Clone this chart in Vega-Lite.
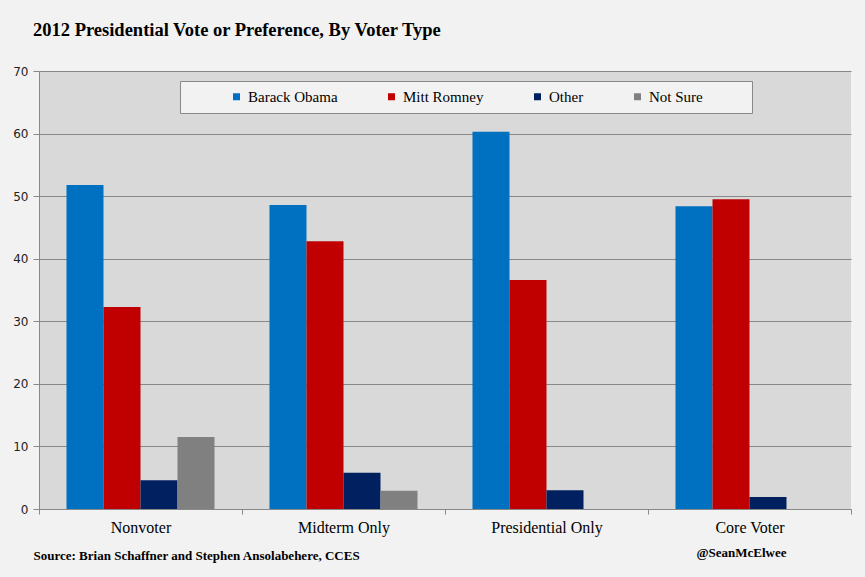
{
  "$schema": "https://vega.github.io/schema/vega-lite/v6.json",
  "autosize": {"type": "none"},
  "width": 812,
  "height": 438,
  "padding": {"left": 39, "top": 71, "right": 14, "bottom": 68},
  "background": "#f2f2f2",
  "title": {
    "text": "2012 Presidential Vote or Preference, By Voter Type",
    "anchor": "start",
    "frame": "group",
    "dx": -6,
    "offset": 26,
    "font": "Liberation Serif",
    "fontSize": 18.5,
    "fontWeight": "bold",
    "color": "#000000"
  },
  "data": {
    "values": [
      {"type": "Nonvoter", "candidate": "Barack Obama", "pct": 51.8},
      {"type": "Nonvoter", "candidate": "Mitt Romney", "pct": 32.3},
      {"type": "Nonvoter", "candidate": "Other", "pct": 4.6},
      {"type": "Nonvoter", "candidate": "Not Sure", "pct": 11.5},
      {"type": "Midterm Only", "candidate": "Barack Obama", "pct": 48.6},
      {"type": "Midterm Only", "candidate": "Mitt Romney", "pct": 42.8},
      {"type": "Midterm Only", "candidate": "Other", "pct": 5.8},
      {"type": "Midterm Only", "candidate": "Not Sure", "pct": 2.9},
      {"type": "Presidential Only", "candidate": "Barack Obama", "pct": 60.3},
      {"type": "Presidential Only", "candidate": "Mitt Romney", "pct": 36.6},
      {"type": "Presidential Only", "candidate": "Other", "pct": 3.0},
      {"type": "Presidential Only", "candidate": "Not Sure", "pct": 0},
      {"type": "Core Voter", "candidate": "Barack Obama", "pct": 48.4},
      {"type": "Core Voter", "candidate": "Mitt Romney", "pct": 49.5},
      {"type": "Core Voter", "candidate": "Other", "pct": 1.9},
      {"type": "Core Voter", "candidate": "Not Sure", "pct": 0}
    ]
  },
  "mark": {"type": "bar"},
  "encoding": {
    "x": {
      "field": "type",
      "type": "nominal",
      "sort": ["Nonvoter", "Midterm Only", "Presidential Only", "Core Voter"],
      "scale": {"paddingInner": 0, "paddingOuter": 0},
      "axis": {
        "title": "Source: Brian Schaffner and Stephen Ansolabehere,  CCES",
        "titleX": -6,
        "titleY": 46,
        "titleAlign": "left",
        "titleAnchor": "start",
        "titleBaseline": "middle",
        "titleFont": "Liberation Serif",
        "titleFontSize": 13,
        "titleFontWeight": "bold",
        "titleColor": "#000000",
        "labelAngle": 0,
        "labelFont": "Liberation Serif",
        "labelFontSize": 16,
        "labelColor": "#000000",
        "labelPadding": 5,
        "tickBand": "extent",
        "tickSize": 5,
        "tickColor": "#888888",
        "domainColor": "#888888",
        "grid": false
      }
    },
    "xOffset": {
      "field": "candidate",
      "type": "nominal",
      "sort": ["Barack Obama", "Mitt Romney", "Other", "Not Sure"],
      "scale": {"paddingInner": 0, "paddingOuter": 0.743}
    },
    "y": {
      "field": "pct",
      "type": "quantitative",
      "scale": {"domain": [0, 70], "nice": false},
      "axis": {
        "values": [0, 10, 20, 30, 40, 50, 60, 70],
        "title": "@SeanMcElwee",
        "titleAngle": 0,
        "titleX": 702,
        "titleY": 481,
        "titleAlign": "center",
        "titleBaseline": "middle",
        "titleFont": "Liberation Serif",
        "titleFontSize": 13,
        "titleFontWeight": "bold",
        "titleColor": "#000000",
        "labelFont": "DejaVu Sans",
        "labelFontSize": 12,
        "labelColor": "#222222",
        "labelPadding": 5,
        "tickSize": 6,
        "tickColor": "#888888",
        "domainColor": "#888888",
        "gridColor": "#888888",
        "gridWidth": 1
      }
    },
    "color": {
      "field": "candidate",
      "type": "nominal",
      "sort": ["Barack Obama", "Mitt Romney", "Other", "Not Sure"],
      "scale": {
        "domain": ["Barack Obama", "Mitt Romney", "Other", "Not Sure"],
        "range": ["#0070c0", "#c00000", "#002060", "#808080"]
      },
      "legend": {
        "orient": "none",
        "legendX": 141,
        "legendY": 10,
        "direction": "horizontal",
        "columns": 4,
        "title": " ",
        "titleOrient": "left",
        "titlePadding": 41,
        "titleFontSize": 15,
        "titleFont": "Liberation Serif",
        "padding": 8,
        "fillColor": "#f2f2f2",
        "strokeColor": "#888888",
        "symbolType": "square",
        "symbolSize": 49,
        "symbolStrokeWidth": 0,
        "labelFont": "Liberation Serif",
        "labelFontSize": 15,
        "labelColor": "#000000",
        "labelOffset": 4,
        "columnPadding": 46,
        "labelExpr": "datum.label == 'Not Sure' ? 'Not Sure\u2003\u2003\u2002\u2009\u200b' : datum.label"
      }
    }
  },
  "config": {
    "view": {"fill": "#d9d9d9", "stroke": null},
    "legend": {"labelFont": "Liberation Serif", "labelFontSize": 15}
  }
}
